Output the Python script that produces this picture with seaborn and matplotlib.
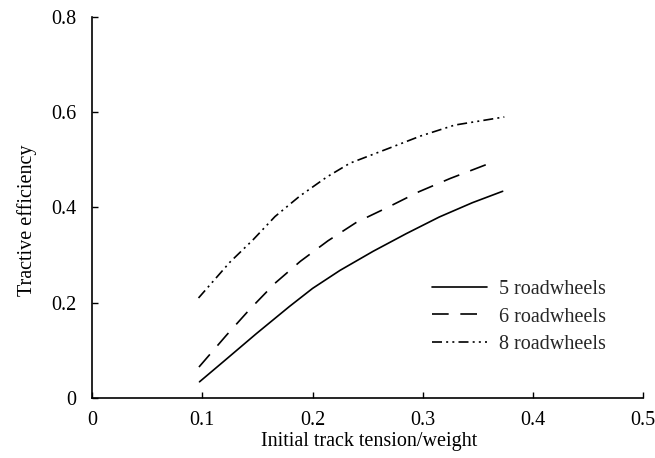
import matplotlib
matplotlib.use("Agg")
import matplotlib.pyplot as plt
import seaborn as sns
import pandas as pd

# Tractive efficiency against initial track tension / vehicle weight
series_names = ["5 roadwheels", "6 roadwheels", "8 roadwheels"]

x_five = [0.0975, 0.119, 0.149, 0.179, 0.200, 0.225, 0.255, 0.285, 0.315, 0.345, 0.3725]
y_five = [0.034, 0.076, 0.135, 0.192, 0.230, 0.268, 0.308, 0.345, 0.380, 0.410, 0.434]

x_six = [0.097, 0.122, 0.143, 0.166, 0.189, 0.214, 0.240, 0.268, 0.2965, 0.325, 0.361]
y_six = [0.065, 0.132, 0.186, 0.241, 0.287, 0.330, 0.369, 0.400, 0.433, 0.461, 0.493]

x_eight = [0.0966, 0.125, 0.146, 0.166, 0.1885, 0.213, 0.234, 0.269, 0.298, 0.329, 0.374]
y_eight = [0.210, 0.285, 0.332, 0.381, 0.424, 0.464, 0.493, 0.524, 0.550, 0.573, 0.590]

x_ticks = [0, 0.1, 0.2, 0.3, 0.4, 0.5]
x_tick_labels = ["0", "0.1", "0.2", "0.3", "0.4", "0.5"]
y_ticks = [0, 0.2, 0.4, 0.6, 0.8]
y_tick_labels = ["0", "0.2", "0.4", "0.6", "0.8"]

frames = []
for name, xs, ys in zip(series_names, [x_five, x_six, x_eight], [y_five, y_six, y_eight]):
    frames.append(pd.DataFrame({"tension": xs, "efficiency": ys, "series": name}))
data = pd.concat(frames, ignore_index=True)

sns.set_theme(style="ticks")
plt.rcParams["font.family"] = ["Liberation Serif", "DejaVu Serif"]
FS = 14.5

fig = plt.figure(figsize=(6.55, 4.58), dpi=100)
ax = fig.add_axes([0.1405, 0.131, 0.8415, 0.832])

dash_styles = {
    "5 roadwheels": "",
    "6 roadwheels": (10, 7),
    "8 roadwheels": (6, 2.5, 1.2, 2.5, 1.2, 2.5),
}

sns.lineplot(
    data=data, x="tension", y="efficiency",
    hue="series", style="series",
    palette=["black"] * 3, dashes=dash_styles,
    linewidth=1.2, sort=False, estimator=None, ax=ax, legend=True,
)
for line in ax.lines:
    line.set_solid_capstyle("round")
    line.set_solid_joinstyle("round")

ax.set_xlim(0, 0.5)
ax.set_ylim(0, 0.8)
ax.set_xticks(x_ticks)
ax.set_xticklabels(x_tick_labels)
ax.set_yticks(y_ticks)
ax.set_yticklabels(y_tick_labels)
ax.tick_params(axis="both", direction="in", length=4, width=1.0,
               labelsize=FS, colors="black")
ax.tick_params(axis="x", pad=9)
ax.tick_params(axis="y", pad=11)

for side in ["top", "right"]:
    ax.spines[side].set_visible(False)
for side in ["left", "bottom"]:
    ax.spines[side].set_linewidth(1.2)
    ax.spines[side].set_color("black")

ax.set_xlabel("Initial track tension/weight", fontsize=FS, color="black")
ax.set_ylabel("Tractive efficiency", fontsize=FS, color="black")
ax.xaxis.set_label_coords(0.503, -0.09)
ax.yaxis.set_label_coords(-0.10, 0.467)

handles, labels = ax.get_legend_handles_labels()
ax.get_legend().remove()
fig.legend(
    handles, labels, loc="upper left", bbox_to_anchor=(0.66, 0.388),
    frameon=False, fontsize=FS, handlelength=2.7, handletextpad=0.6,
    labelspacing=0.4, borderpad=0, borderaxespad=0,
)

fig.savefig("out.png", dpi=100, facecolor="white")
